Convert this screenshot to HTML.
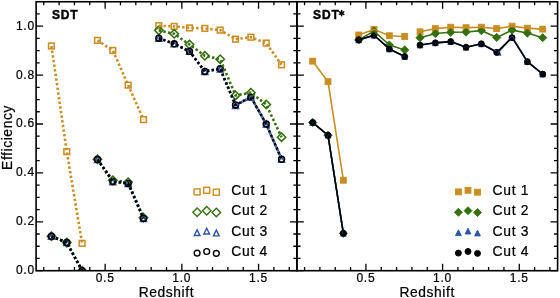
<!DOCTYPE html>
<html><head><meta charset="utf-8"><style>
html,body{margin:0;padding:0;background:#fff;}
body{width:560px;height:298px;overflow:hidden;}
svg{display:block;will-change:transform;}
text{font-family:"Liberation Sans",sans-serif;fill:#000;stroke:#000;stroke-width:0.22px;}
text.b{stroke-width:0.45px;}
</style></head><body>
<svg width="560" height="298" viewBox="0 0 560 298">
<rect width="560" height="298" fill="#fff"/>
<defs>
<clipPath id="cl"><rect x="36.1" y="1.75" width="260.8" height="268.95"/></clipPath>
<clipPath id="cr"><rect x="296.9" y="1.75" width="260.7" height="268.95"/></clipPath>
</defs>
<g clip-path="url(#cl)">
<rect x="48.59" y="43.15" width="5.7" height="5.7" fill="none" stroke="#c98d22" stroke-width="1.55"/>
<rect x="63.93" y="148.78" width="5.7" height="5.7" fill="none" stroke="#c98d22" stroke-width="1.55"/>
<rect x="79.27" y="240.47" width="5.7" height="5.7" fill="none" stroke="#c98d22" stroke-width="1.55"/>
<rect x="94.61" y="37.53" width="5.7" height="5.7" fill="none" stroke="#c98d22" stroke-width="1.55"/>
<rect x="109.96" y="47.56" width="5.7" height="5.7" fill="none" stroke="#c98d22" stroke-width="1.55"/>
<rect x="125.3" y="82.27" width="5.7" height="5.7" fill="none" stroke="#c98d22" stroke-width="1.55"/>
<rect x="140.64" y="116.75" width="5.7" height="5.7" fill="none" stroke="#c98d22" stroke-width="1.55"/>
<rect x="155.98" y="22.86" width="5.7" height="5.7" fill="none" stroke="#c98d22" stroke-width="1.55"/>
<rect x="171.32" y="23.59" width="5.7" height="5.7" fill="none" stroke="#c98d22" stroke-width="1.55"/>
<rect x="186.66" y="25.06" width="5.7" height="5.7" fill="none" stroke="#c98d22" stroke-width="1.55"/>
<rect x="202" y="25.55" width="5.7" height="5.7" fill="none" stroke="#c98d22" stroke-width="1.55"/>
<rect x="217.34" y="27.26" width="5.7" height="5.7" fill="none" stroke="#c98d22" stroke-width="1.55"/>
<rect x="232.69" y="36.31" width="5.7" height="5.7" fill="none" stroke="#c98d22" stroke-width="1.55"/>
<rect x="248.03" y="34.35" width="5.7" height="5.7" fill="none" stroke="#c98d22" stroke-width="1.55"/>
<rect x="263.37" y="40.22" width="5.7" height="5.7" fill="none" stroke="#c98d22" stroke-width="1.55"/>
<rect x="278.71" y="61.98" width="5.7" height="5.7" fill="none" stroke="#c98d22" stroke-width="1.55"/>
<path d="M51.44 232.03L55.64 236.23L51.44 240.43L47.24 236.23Z" fill="none" stroke="#35700f" stroke-width="1.55"/>
<path d="M66.78 238.38L70.98 242.58L66.78 246.78L62.58 242.58Z" fill="none" stroke="#35700f" stroke-width="1.55"/>
<path d="M82.12 266.5L86.32 270.7L82.12 274.9L77.92 270.7Z" fill="none" stroke="#35700f" stroke-width="1.55"/>
<path d="M97.46 155.01L101.66 159.21L97.46 163.41L93.26 159.21Z" fill="none" stroke="#35700f" stroke-width="1.55"/>
<path d="M112.81 176.03L117.01 180.23L112.81 184.43L108.61 180.23Z" fill="none" stroke="#35700f" stroke-width="1.55"/>
<path d="M128.15 177.99L132.35 182.19L128.15 186.39L123.95 182.19Z" fill="none" stroke="#35700f" stroke-width="1.55"/>
<path d="M143.49 213.44L147.69 217.64L143.49 221.84L139.29 217.64Z" fill="none" stroke="#35700f" stroke-width="1.55"/>
<path d="M158.83 26.16L163.03 30.36L158.83 34.56L154.63 30.36Z" fill="none" stroke="#35700f" stroke-width="1.55"/>
<path d="M174.17 29.58L178.37 33.78L174.17 37.98L169.97 33.78Z" fill="none" stroke="#35700f" stroke-width="1.55"/>
<path d="M189.51 40.34L193.71 44.54L189.51 48.74L185.31 44.54Z" fill="none" stroke="#35700f" stroke-width="1.55"/>
<path d="M204.85 51.58L209.05 55.78L204.85 59.98L200.65 55.78Z" fill="none" stroke="#35700f" stroke-width="1.55"/>
<path d="M220.19 55.01L224.39 59.21L220.19 63.41L215.99 59.21Z" fill="none" stroke="#35700f" stroke-width="1.55"/>
<path d="M235.54 91.19L239.74 95.39L235.54 99.59L231.34 95.39Z" fill="none" stroke="#35700f" stroke-width="1.55"/>
<path d="M250.88 88.5L255.08 92.7L250.88 96.9L246.68 92.7Z" fill="none" stroke="#35700f" stroke-width="1.55"/>
<path d="M266.22 100.24L270.42 104.44L266.22 108.64L262.02 104.44Z" fill="none" stroke="#35700f" stroke-width="1.55"/>
<path d="M281.56 133L285.76 137.2L281.56 141.4L277.36 137.2Z" fill="none" stroke="#35700f" stroke-width="1.55"/>
<path d="M51.44 233.28L54.39 239.18L48.49 239.18Z" fill="none" stroke="#2c55a5" stroke-width="1.55"/>
<path d="M66.78 239.63L69.73 245.53L63.83 245.53Z" fill="none" stroke="#2c55a5" stroke-width="1.55"/>
<path d="M82.12 267.75L85.07 273.65L79.17 273.65Z" fill="none" stroke="#2c55a5" stroke-width="1.55"/>
<path d="M97.46 156.5L100.41 162.4L94.51 162.4Z" fill="none" stroke="#2c55a5" stroke-width="1.55"/>
<path d="M112.81 178.75L115.76 184.65L109.86 184.65Z" fill="none" stroke="#2c55a5" stroke-width="1.55"/>
<path d="M128.15 180.46L131.1 186.36L125.2 186.36Z" fill="none" stroke="#2c55a5" stroke-width="1.55"/>
<path d="M143.49 215.67L146.44 221.57L140.54 221.57Z" fill="none" stroke="#2c55a5" stroke-width="1.55"/>
<path d="M158.83 35.23L161.78 41.13L155.88 41.13Z" fill="none" stroke="#2c55a5" stroke-width="1.55"/>
<path d="M174.17 40.85L177.12 46.75L171.22 46.75Z" fill="none" stroke="#2c55a5" stroke-width="1.55"/>
<path d="M189.51 48.43L192.46 54.33L186.56 54.33Z" fill="none" stroke="#2c55a5" stroke-width="1.55"/>
<path d="M204.85 68.48L207.8 74.38L201.9 74.38Z" fill="none" stroke="#2c55a5" stroke-width="1.55"/>
<path d="M220.19 66.04L223.14 71.94L217.24 71.94Z" fill="none" stroke="#2c55a5" stroke-width="1.55"/>
<path d="M235.54 102.47L238.49 108.37L232.59 108.37Z" fill="none" stroke="#2c55a5" stroke-width="1.55"/>
<path d="M250.88 94.15L253.83 100.05L247.93 100.05Z" fill="none" stroke="#2c55a5" stroke-width="1.55"/>
<path d="M266.22 121.05L269.17 126.95L263.27 126.95Z" fill="none" stroke="#2c55a5" stroke-width="1.55"/>
<path d="M281.56 156.26L284.51 162.16L278.61 162.16Z" fill="none" stroke="#2c55a5" stroke-width="1.55"/>
<circle cx="51.44" cy="236.23" r="2.95" fill="none" stroke="#000000" stroke-width="1.55"/>
<circle cx="66.78" cy="242.58" r="2.95" fill="none" stroke="#000000" stroke-width="1.55"/>
<circle cx="82.12" cy="270.7" r="2.95" fill="none" stroke="#000000" stroke-width="1.55"/>
<circle cx="97.46" cy="159.45" r="2.95" fill="none" stroke="#000000" stroke-width="1.55"/>
<circle cx="112.81" cy="181.46" r="2.95" fill="none" stroke="#000000" stroke-width="1.55"/>
<circle cx="128.15" cy="183.41" r="2.95" fill="none" stroke="#000000" stroke-width="1.55"/>
<circle cx="143.49" cy="218.38" r="2.95" fill="none" stroke="#000000" stroke-width="1.55"/>
<circle cx="158.83" cy="38.18" r="2.95" fill="none" stroke="#000000" stroke-width="1.55"/>
<circle cx="174.17" cy="43.8" r="2.95" fill="none" stroke="#000000" stroke-width="1.55"/>
<circle cx="189.51" cy="51.38" r="2.95" fill="none" stroke="#000000" stroke-width="1.55"/>
<circle cx="204.85" cy="71.43" r="2.95" fill="none" stroke="#000000" stroke-width="1.55"/>
<circle cx="220.19" cy="68.74" r="2.95" fill="none" stroke="#000000" stroke-width="1.55"/>
<circle cx="235.54" cy="104.93" r="2.95" fill="none" stroke="#000000" stroke-width="1.55"/>
<circle cx="250.88" cy="97.1" r="2.95" fill="none" stroke="#000000" stroke-width="1.55"/>
<circle cx="266.22" cy="124" r="2.95" fill="none" stroke="#000000" stroke-width="1.55"/>
<circle cx="281.56" cy="159.21" r="2.95" fill="none" stroke="#000000" stroke-width="1.55"/>
<path d="M51.44 46L66.78 151.63L82.12 243.32" fill="none" stroke="#c98d22" stroke-width="2.6" stroke-dasharray="2.4 2.28" stroke-dashoffset="0"/>
<path d="M97.46 40.38L112.81 50.41L128.15 85.12L143.49 119.6" fill="none" stroke="#c98d22" stroke-width="2.6" stroke-dasharray="2.4 2.28" stroke-dashoffset="0"/>
<path d="M158.83 25.71L174.17 26.44L189.51 27.91L204.85 28.4L220.19 30.11L235.54 39.16L250.88 37.2L266.22 43.07L281.56 64.83" fill="none" stroke="#c98d22" stroke-width="2.6" stroke-dasharray="2.4 2.28" stroke-dashoffset="0"/>
<path d="M51.44 236.23L66.78 242.58L82.12 270.7" fill="none" stroke="#35700f" stroke-width="2.6" stroke-dasharray="2.4 2.28" stroke-dashoffset="0"/>
<path d="M97.46 159.21L112.81 180.23L128.15 182.19L143.49 217.64" fill="none" stroke="#35700f" stroke-width="2.6" stroke-dasharray="2.4 2.28" stroke-dashoffset="0"/>
<path d="M158.83 30.36L174.17 33.78L189.51 44.54L204.85 55.78L220.19 59.21L235.54 95.39L250.88 92.7L266.22 104.44L281.56 137.2" fill="none" stroke="#35700f" stroke-width="2.6" stroke-dasharray="2.4 2.28" stroke-dashoffset="0"/>
<path d="M51.44 236.23L66.78 242.58L82.12 270.7" fill="none" stroke="#2c55a5" stroke-width="2.6" stroke-dasharray="2.4 2.28" stroke-dashoffset="0"/>
<path d="M97.46 159.45L112.81 181.7L128.15 183.41L143.49 218.62" fill="none" stroke="#2c55a5" stroke-width="2.6" stroke-dasharray="2.4 2.28" stroke-dashoffset="0"/>
<path d="M158.83 38.18L174.17 43.8L189.51 51.38L204.85 71.43L220.19 68.99L235.54 105.42" fill="none" stroke="#2c55a5" stroke-width="2.6" stroke-dasharray="2.4 2.28" stroke-dashoffset="0"/>
<path d="M235.54 105.42L250.88 97.1L266.22 124L281.56 159.21" fill="none" stroke="#2c55a5" stroke-width="2.6" stroke-dasharray="2.4 2.28" stroke-dashoffset="3.78"/>
<path d="M51.44 236.23L66.78 242.58L82.12 270.7" fill="none" stroke="#000000" stroke-width="2.6" stroke-dasharray="2.4 2.28" stroke-dashoffset="0"/>
<path d="M97.46 159.45L112.81 181.46L128.15 183.41L143.49 218.38" fill="none" stroke="#000000" stroke-width="2.6" stroke-dasharray="2.4 2.28" stroke-dashoffset="0"/>
<path d="M158.83 38.18L174.17 43.8L189.51 51.38L204.85 71.43L220.19 68.74L235.54 104.93L250.88 97.1L266.22 124L281.56 159.21" fill="none" stroke="#000000" stroke-width="2.6" stroke-dasharray="2.4 2.28" stroke-dashoffset="0"/>
</g>
<g clip-path="url(#cr)">
<rect x="309.74" y="58.21" width="5.9" height="5.9" fill="#c98d22" stroke="#c98d22" stroke-width="0.9"/>
<rect x="325.07" y="78.75" width="5.9" height="5.9" fill="#c98d22" stroke="#c98d22" stroke-width="0.9"/>
<rect x="340.41" y="177.28" width="5.9" height="5.9" fill="#c98d22" stroke="#c98d22" stroke-width="0.9"/>
<rect x="355.74" y="32.05" width="5.9" height="5.9" fill="#c98d22" stroke="#c98d22" stroke-width="0.9"/>
<rect x="371.08" y="26.43" width="5.9" height="5.9" fill="#c98d22" stroke="#c98d22" stroke-width="0.9"/>
<rect x="386.41" y="32.79" width="5.9" height="5.9" fill="#c98d22" stroke="#c98d22" stroke-width="0.9"/>
<rect x="401.75" y="33.52" width="5.9" height="5.9" fill="#c98d22" stroke="#c98d22" stroke-width="0.9"/>
<rect x="417.08" y="28.87" width="5.9" height="5.9" fill="#c98d22" stroke="#c98d22" stroke-width="0.9"/>
<rect x="432.42" y="25.69" width="5.9" height="5.9" fill="#c98d22" stroke="#c98d22" stroke-width="0.9"/>
<rect x="447.75" y="24.23" width="5.9" height="5.9" fill="#c98d22" stroke="#c98d22" stroke-width="0.9"/>
<rect x="463.09" y="24.72" width="5.9" height="5.9" fill="#c98d22" stroke="#c98d22" stroke-width="0.9"/>
<rect x="478.42" y="24.23" width="5.9" height="5.9" fill="#c98d22" stroke="#c98d22" stroke-width="0.9"/>
<rect x="493.76" y="25.69" width="5.9" height="5.9" fill="#c98d22" stroke="#c98d22" stroke-width="0.9"/>
<rect x="509.09" y="23.25" width="5.9" height="5.9" fill="#c98d22" stroke="#c98d22" stroke-width="0.9"/>
<rect x="524.43" y="25.21" width="5.9" height="5.9" fill="#c98d22" stroke="#c98d22" stroke-width="0.9"/>
<rect x="539.76" y="26.18" width="5.9" height="5.9" fill="#c98d22" stroke="#c98d22" stroke-width="0.9"/>
<path d="M312.69 118.43L316.79 122.53L312.69 126.63L308.59 122.53Z" fill="#35700f" stroke="#35700f" stroke-width="0.9"/>
<path d="M328.02 131.15L332.12 135.25L328.02 139.35L323.92 135.25Z" fill="#35700f" stroke="#35700f" stroke-width="0.9"/>
<path d="M343.36 229.19L347.46 233.29L343.36 237.39L339.26 233.29Z" fill="#35700f" stroke="#35700f" stroke-width="0.9"/>
<path d="M358.69 35.79L362.79 39.89L358.69 43.99L354.59 39.89Z" fill="#35700f" stroke="#35700f" stroke-width="0.9"/>
<path d="M374.03 26.99L378.13 31.09L374.03 35.19L369.93 31.09Z" fill="#35700f" stroke="#35700f" stroke-width="0.9"/>
<path d="M389.36 40.93L393.46 45.03L389.36 49.13L385.26 45.03Z" fill="#35700f" stroke="#35700f" stroke-width="0.9"/>
<path d="M404.7 45.82L408.8 49.92L404.7 54.02L400.6 49.92Z" fill="#35700f" stroke="#35700f" stroke-width="0.9"/>
<path d="M420.03 33.59L424.13 37.69L420.03 41.79L415.93 37.69Z" fill="#35700f" stroke="#35700f" stroke-width="0.9"/>
<path d="M435.37 29.43L439.47 33.53L435.37 37.63L431.27 33.53Z" fill="#35700f" stroke="#35700f" stroke-width="0.9"/>
<path d="M450.7 28.21L454.8 32.31L450.7 36.41L446.6 32.31Z" fill="#35700f" stroke="#35700f" stroke-width="0.9"/>
<path d="M466.04 27.97L470.14 32.07L466.04 36.17L461.94 32.07Z" fill="#35700f" stroke="#35700f" stroke-width="0.9"/>
<path d="M481.37 26.5L485.47 30.6L481.37 34.7L477.27 30.6Z" fill="#35700f" stroke="#35700f" stroke-width="0.9"/>
<path d="M496.71 33.35L500.81 37.45L496.71 41.55L492.61 37.45Z" fill="#35700f" stroke="#35700f" stroke-width="0.9"/>
<path d="M512.04 26.01L516.14 30.11L512.04 34.21L507.94 30.11Z" fill="#35700f" stroke="#35700f" stroke-width="0.9"/>
<path d="M527.38 28.95L531.48 33.05L527.38 37.15L523.28 33.05Z" fill="#35700f" stroke="#35700f" stroke-width="0.9"/>
<path d="M542.71 33.59L546.81 37.69L542.71 41.79L538.61 37.69Z" fill="#35700f" stroke="#35700f" stroke-width="0.9"/>
<path d="M312.69 119.63L315.59 125.43L309.79 125.43Z" fill="#2c55a5" stroke="#2c55a5" stroke-width="0.9"/>
<path d="M328.02 132.35L330.92 138.15L325.12 138.15Z" fill="#2c55a5" stroke="#2c55a5" stroke-width="0.9"/>
<path d="M343.36 230.39L346.26 236.19L340.46 236.19Z" fill="#2c55a5" stroke="#2c55a5" stroke-width="0.9"/>
<path d="M358.69 36.99L361.59 42.79L355.79 42.79Z" fill="#2c55a5" stroke="#2c55a5" stroke-width="0.9"/>
<path d="M374.03 32.35L376.93 38.15L371.13 38.15Z" fill="#2c55a5" stroke="#2c55a5" stroke-width="0.9"/>
<path d="M389.36 46.04L392.26 51.84L386.46 51.84Z" fill="#2c55a5" stroke="#2c55a5" stroke-width="0.9"/>
<path d="M404.7 53.62L407.6 59.42L401.8 59.42Z" fill="#2c55a5" stroke="#2c55a5" stroke-width="0.9"/>
<path d="M420.03 42.13L422.93 47.93L417.13 47.93Z" fill="#2c55a5" stroke="#2c55a5" stroke-width="0.9"/>
<path d="M435.37 39.93L438.27 45.73L432.47 45.73Z" fill="#2c55a5" stroke="#2c55a5" stroke-width="0.9"/>
<path d="M450.7 38.7L453.6 44.5L447.8 44.5Z" fill="#2c55a5" stroke="#2c55a5" stroke-width="0.9"/>
<path d="M466.04 44.33L468.94 50.13L463.14 50.13Z" fill="#2c55a5" stroke="#2c55a5" stroke-width="0.9"/>
<path d="M481.37 40.9L484.27 46.7L478.47 46.7Z" fill="#2c55a5" stroke="#2c55a5" stroke-width="0.9"/>
<path d="M498.21 49.46L501.11 55.26L495.31 55.26Z" fill="#2c55a5" stroke="#2c55a5" stroke-width="0.9"/>
<path d="M512.04 33.81L514.94 39.61L509.14 39.61Z" fill="#2c55a5" stroke="#2c55a5" stroke-width="0.9"/>
<path d="M527.38 58.75L530.28 64.55L524.48 64.55Z" fill="#2c55a5" stroke="#2c55a5" stroke-width="0.9"/>
<path d="M542.71 71.22L545.61 77.02L539.81 77.02Z" fill="#2c55a5" stroke="#2c55a5" stroke-width="0.9"/>
<circle cx="312.69" cy="122.53" r="3" fill="#000000" stroke="#000000" stroke-width="0.9"/>
<circle cx="328.02" cy="135.25" r="3" fill="#000000" stroke="#000000" stroke-width="0.9"/>
<circle cx="343.36" cy="233.29" r="3" fill="#000000" stroke="#000000" stroke-width="0.9"/>
<circle cx="358.69" cy="39.89" r="3" fill="#000000" stroke="#000000" stroke-width="0.9"/>
<circle cx="374.03" cy="35.25" r="3" fill="#000000" stroke="#000000" stroke-width="0.9"/>
<circle cx="389.36" cy="48.94" r="3" fill="#000000" stroke="#000000" stroke-width="0.9"/>
<circle cx="404.7" cy="56.52" r="3" fill="#000000" stroke="#000000" stroke-width="0.9"/>
<circle cx="420.03" cy="45.03" r="3" fill="#000000" stroke="#000000" stroke-width="0.9"/>
<circle cx="435.37" cy="42.83" r="3" fill="#000000" stroke="#000000" stroke-width="0.9"/>
<circle cx="450.7" cy="41.6" r="3" fill="#000000" stroke="#000000" stroke-width="0.9"/>
<circle cx="466.04" cy="47.23" r="3" fill="#000000" stroke="#000000" stroke-width="0.9"/>
<circle cx="481.37" cy="43.8" r="3" fill="#000000" stroke="#000000" stroke-width="0.9"/>
<circle cx="496.71" cy="52.36" r="3" fill="#000000" stroke="#000000" stroke-width="0.9"/>
<circle cx="512.04" cy="37.69" r="3" fill="#000000" stroke="#000000" stroke-width="0.9"/>
<circle cx="527.38" cy="61.65" r="3" fill="#000000" stroke="#000000" stroke-width="0.9"/>
<circle cx="542.71" cy="74.12" r="3" fill="#000000" stroke="#000000" stroke-width="0.9"/>
<path d="M312.69 61.16L328.02 81.7L343.36 180.23" fill="none" stroke="#c98d22" stroke-width="1.6" stroke-linejoin="round"/>
<path d="M358.69 35L374.03 29.38L389.36 35.74L404.7 36.47" fill="none" stroke="#c98d22" stroke-width="1.6" stroke-linejoin="round"/>
<path d="M420.03 31.82L435.37 28.64L450.7 27.18L466.04 27.67L481.37 27.18L496.71 28.64L512.04 26.2L527.38 28.16L542.71 29.13" fill="none" stroke="#c98d22" stroke-width="1.6" stroke-linejoin="round"/>
<path d="M312.69 122.53L328.02 135.25L343.36 233.29" fill="none" stroke="#35700f" stroke-width="1.6" stroke-linejoin="round"/>
<path d="M358.69 39.89L374.03 31.09L389.36 45.03L404.7 49.92" fill="none" stroke="#35700f" stroke-width="1.6" stroke-linejoin="round"/>
<path d="M420.03 37.69L435.37 33.53L450.7 32.31L466.04 32.07L481.37 30.6L496.71 37.45L512.04 30.11L527.38 33.05L542.71 37.69" fill="none" stroke="#35700f" stroke-width="1.6" stroke-linejoin="round"/>
<path d="M312.69 122.53L328.02 135.25L343.36 233.29" fill="none" stroke="#2c55a5" stroke-width="1.6" stroke-linejoin="round"/>
<path d="M358.69 39.89L374.03 35.25L389.36 48.94L404.7 56.52" fill="none" stroke="#2c55a5" stroke-width="1.6" stroke-linejoin="round"/>
<path d="M420.03 45.03L435.37 42.83L450.7 41.6L466.04 47.23L481.37 43.8L498.21 52.36L512.04 36.71L527.38 61.65L542.71 74.12" fill="none" stroke="#2c55a5" stroke-width="1.6" stroke-linejoin="round"/>
<path d="M312.69 122.53L328.02 135.25L343.36 233.29" fill="none" stroke="#000000" stroke-width="1.6" stroke-linejoin="round"/>
<path d="M358.69 39.89L374.03 35.25L389.36 48.94L404.7 56.52" fill="none" stroke="#000000" stroke-width="1.6" stroke-linejoin="round"/>
<path d="M420.03 45.03L435.37 42.83L450.7 41.6L466.04 47.23L481.37 43.8L496.71 52.36L512.04 37.69L527.38 61.65L542.71 74.12" fill="none" stroke="#000000" stroke-width="1.6" stroke-linejoin="round"/>
</g>
<path d="M36.1 270.7h7M296.9 270.7h-7M36.1 258.47h3.6M296.9 258.47h-3.6M36.1 246.25h3.6M296.9 246.25h-3.6M36.1 234.02h3.6M296.9 234.02h-3.6M36.1 221.8h7M296.9 221.8h-7M36.1 209.57h3.6M296.9 209.57h-3.6M36.1 197.35h3.6M296.9 197.35h-3.6M36.1 185.12h3.6M296.9 185.12h-3.6M36.1 172.9h7M296.9 172.9h-7M36.1 160.67h3.6M296.9 160.67h-3.6M36.1 148.45h3.6M296.9 148.45h-3.6M36.1 136.22h3.6M296.9 136.22h-3.6M36.1 124h7M296.9 124h-7M36.1 111.77h3.6M296.9 111.77h-3.6M36.1 99.55h3.6M296.9 99.55h-3.6M36.1 87.32h3.6M296.9 87.32h-3.6M36.1 75.1h7M296.9 75.1h-7M36.1 62.87h3.6M296.9 62.87h-3.6M36.1 50.65h3.6M296.9 50.65h-3.6M36.1 38.42h3.6M296.9 38.42h-3.6M36.1 26.2h7M296.9 26.2h-7M36.1 13.97h3.6M296.9 13.97h-3.6M43.77 270.7v-3.6M43.77 1.75v3.6M59.11 270.7v-3.6M59.11 1.75v3.6M74.45 270.7v-3.6M74.45 1.75v3.6M89.79 270.7v-3.6M89.79 1.75v3.6M105.14 270.7v-7M105.14 1.75v7M120.48 270.7v-3.6M120.48 1.75v3.6M135.82 270.7v-3.6M135.82 1.75v3.6M151.16 270.7v-3.6M151.16 1.75v3.6M166.5 270.7v-3.6M166.5 1.75v3.6M181.84 270.7v-7M181.84 1.75v7M197.18 270.7v-3.6M197.18 1.75v3.6M212.52 270.7v-3.6M212.52 1.75v3.6M227.86 270.7v-3.6M227.86 1.75v3.6M243.21 270.7v-3.6M243.21 1.75v3.6M258.55 270.7v-7M258.55 1.75v7M273.89 270.7v-3.6M273.89 1.75v3.6M289.23 270.7v-3.6M289.23 1.75v3.6" stroke="#000" stroke-width="1.3" fill="none"/>
<rect x="36.1" y="1.75" width="260.8" height="268.95" fill="none" stroke="#000" stroke-width="1.6"/>
<path d="M296.9 270.7h7M557.6 270.7h-7M296.9 258.47h3.6M557.6 258.47h-3.6M296.9 246.25h3.6M557.6 246.25h-3.6M296.9 234.02h3.6M557.6 234.02h-3.6M296.9 221.8h7M557.6 221.8h-7M296.9 209.57h3.6M557.6 209.57h-3.6M296.9 197.35h3.6M557.6 197.35h-3.6M296.9 185.12h3.6M557.6 185.12h-3.6M296.9 172.9h7M557.6 172.9h-7M296.9 160.67h3.6M557.6 160.67h-3.6M296.9 148.45h3.6M557.6 148.45h-3.6M296.9 136.22h3.6M557.6 136.22h-3.6M296.9 124h7M557.6 124h-7M296.9 111.77h3.6M557.6 111.77h-3.6M296.9 99.55h3.6M557.6 99.55h-3.6M296.9 87.32h3.6M557.6 87.32h-3.6M296.9 75.1h7M557.6 75.1h-7M296.9 62.87h3.6M557.6 62.87h-3.6M296.9 50.65h3.6M557.6 50.65h-3.6M296.9 38.42h3.6M557.6 38.42h-3.6M296.9 26.2h7M557.6 26.2h-7M296.9 13.97h3.6M557.6 13.97h-3.6M304.57 270.7v-3.6M304.57 1.75v3.6M319.9 270.7v-3.6M319.9 1.75v3.6M335.24 270.7v-3.6M335.24 1.75v3.6M350.57 270.7v-3.6M350.57 1.75v3.6M365.91 270.7v-7M365.91 1.75v7M381.24 270.7v-3.6M381.24 1.75v3.6M396.58 270.7v-3.6M396.58 1.75v3.6M411.91 270.7v-3.6M411.91 1.75v3.6M427.25 270.7v-3.6M427.25 1.75v3.6M442.59 270.7v-7M442.59 1.75v7M457.92 270.7v-3.6M457.92 1.75v3.6M473.26 270.7v-3.6M473.26 1.75v3.6M488.59 270.7v-3.6M488.59 1.75v3.6M503.93 270.7v-3.6M503.93 1.75v3.6M519.26 270.7v-7M519.26 1.75v7M534.6 270.7v-3.6M534.6 1.75v3.6M549.93 270.7v-3.6M549.93 1.75v3.6" stroke="#000" stroke-width="1.3" fill="none"/>
<rect x="296.9" y="1.75" width="260.7" height="268.95" fill="none" stroke="#000" stroke-width="1.6"/>
<text x="34.85" y="274.15" font-size="12.0" letter-spacing="0.75" text-anchor="end">0.0</text>
<text x="34.85" y="225.25" font-size="12.0" letter-spacing="0.75" text-anchor="end">0.2</text>
<text x="34.85" y="176.35" font-size="12.0" letter-spacing="0.75" text-anchor="end">0.4</text>
<text x="34.85" y="127.45" font-size="12.0" letter-spacing="0.75" text-anchor="end">0.6</text>
<text x="34.85" y="78.55" font-size="12.0" letter-spacing="0.75" text-anchor="end">0.8</text>
<text x="34.85" y="29.65" font-size="12.0" letter-spacing="0.75" text-anchor="end">1.0</text>
<text x="105.14" y="281.7" font-size="12.0" letter-spacing="0.75" text-anchor="middle">0.5</text>
<text x="181.84" y="281.7" font-size="12.0" letter-spacing="0.75" text-anchor="middle">1.0</text>
<text x="258.55" y="281.7" font-size="12.0" letter-spacing="0.75" text-anchor="middle">1.5</text>
<text x="365.91" y="281.7" font-size="12.0" letter-spacing="0.75" text-anchor="middle">0.5</text>
<text x="442.59" y="281.7" font-size="12.0" letter-spacing="0.75" text-anchor="middle">1.0</text>
<text x="519.26" y="281.7" font-size="12.0" letter-spacing="0.75" text-anchor="middle">1.5</text>
<text x="166.4" y="296.7" font-size="13.8" letter-spacing="0.6" text-anchor="middle">Redshift</text>
<text x="427.15" y="296.7" font-size="13.8" letter-spacing="0.6" text-anchor="middle">Redshift</text>
<text transform="translate(11.9 137.5) rotate(-90)" font-size="13.8" letter-spacing="0.6" text-anchor="middle">Efficiency</text>
<text x="51.9" y="19.1" font-size="12" class="b" font-weight="bold" letter-spacing="0.9">SDT</text>
<text x="313.1" y="19.1" font-size="12" class="b" font-weight="bold" letter-spacing="0.9">SDT</text>
<path d="M341.6 10.55L341.6 15.65M339.39 11.82L343.81 14.38M343.81 11.82L339.39 14.38" stroke="#000" stroke-width="1.5" stroke-linecap="round" fill="none"/>
<rect x="194.1" y="188.9" width="6" height="6" fill="none" stroke="#c98d22" stroke-width="1.4"/>
<rect x="203.7" y="187.3" width="6" height="6" fill="none" stroke="#c98d22" stroke-width="1.4"/>
<rect x="213.3" y="189.2" width="6" height="6" fill="none" stroke="#c98d22" stroke-width="1.4"/>
<text x="231.3" y="194.7" font-size="13.9" letter-spacing="0.7">Cut 1</text>
<path d="M197.1 208.05L201.35 212.3L197.1 216.55L192.85 212.3Z" fill="none" stroke="#35700f" stroke-width="1.4"/>
<path d="M206.7 206.45L210.95 210.7L206.7 214.95L202.45 210.7Z" fill="none" stroke="#35700f" stroke-width="1.4"/>
<path d="M216.3 208.35L220.55 212.6L216.3 216.85L212.05 212.6Z" fill="none" stroke="#35700f" stroke-width="1.4"/>
<text x="231.3" y="215.1" font-size="13.9" letter-spacing="0.7">Cut 2</text>
<path d="M197.1 229.85L199.95 235.55L194.25 235.55Z" fill="none" stroke="#2c55a5" stroke-width="1.4"/>
<path d="M206.7 228.25L209.55 233.95L203.85 233.95Z" fill="none" stroke="#2c55a5" stroke-width="1.4"/>
<path d="M216.3 230.15L219.15 235.85L213.45 235.85Z" fill="none" stroke="#2c55a5" stroke-width="1.4"/>
<text x="231.3" y="235.5" font-size="13.9" letter-spacing="0.7">Cut 3</text>
<circle cx="197.1" cy="253.1" r="2.9" fill="none" stroke="#000000" stroke-width="1.4"/>
<circle cx="206.7" cy="251.5" r="2.9" fill="none" stroke="#000000" stroke-width="1.4"/>
<circle cx="216.3" cy="253.4" r="2.9" fill="none" stroke="#000000" stroke-width="1.4"/>
<text x="231.3" y="255.9" font-size="13.9" letter-spacing="0.7">Cut 4</text>
<rect x="455.45" y="188.95" width="5.9" height="5.9" fill="#c98d22" stroke="#c98d22" stroke-width="0.9"/>
<rect x="465.05" y="187.35" width="5.9" height="5.9" fill="#c98d22" stroke="#c98d22" stroke-width="0.9"/>
<rect x="474.55" y="189.25" width="5.9" height="5.9" fill="#c98d22" stroke="#c98d22" stroke-width="0.9"/>
<text x="492.5" y="194.7" font-size="13.9" letter-spacing="0.7">Cut 1</text>
<path d="M458.4 208.3L462.4 212.3L458.4 216.3L454.4 212.3Z" fill="#35700f" stroke="#35700f" stroke-width="0.9"/>
<path d="M468 206.7L472 210.7L468 214.7L464 210.7Z" fill="#35700f" stroke="#35700f" stroke-width="0.9"/>
<path d="M477.5 208.6L481.5 212.6L477.5 216.6L473.5 212.6Z" fill="#35700f" stroke="#35700f" stroke-width="0.9"/>
<text x="492.5" y="215.1" font-size="13.9" letter-spacing="0.7">Cut 2</text>
<path d="M458.4 229.8L461.3 235.6L455.5 235.6Z" fill="#2c55a5" stroke="#2c55a5" stroke-width="0.9"/>
<path d="M468 228.2L470.9 234L465.1 234Z" fill="#2c55a5" stroke="#2c55a5" stroke-width="0.9"/>
<path d="M477.5 230.1L480.4 235.9L474.6 235.9Z" fill="#2c55a5" stroke="#2c55a5" stroke-width="0.9"/>
<text x="492.5" y="235.5" font-size="13.9" letter-spacing="0.7">Cut 3</text>
<circle cx="458.4" cy="253.1" r="3" fill="#000000" stroke="#000000" stroke-width="0.9"/>
<circle cx="468" cy="251.5" r="3" fill="#000000" stroke="#000000" stroke-width="0.9"/>
<circle cx="477.5" cy="253.4" r="3" fill="#000000" stroke="#000000" stroke-width="0.9"/>
<text x="492.5" y="255.9" font-size="13.9" letter-spacing="0.7">Cut 4</text>
</svg>
</body></html>
